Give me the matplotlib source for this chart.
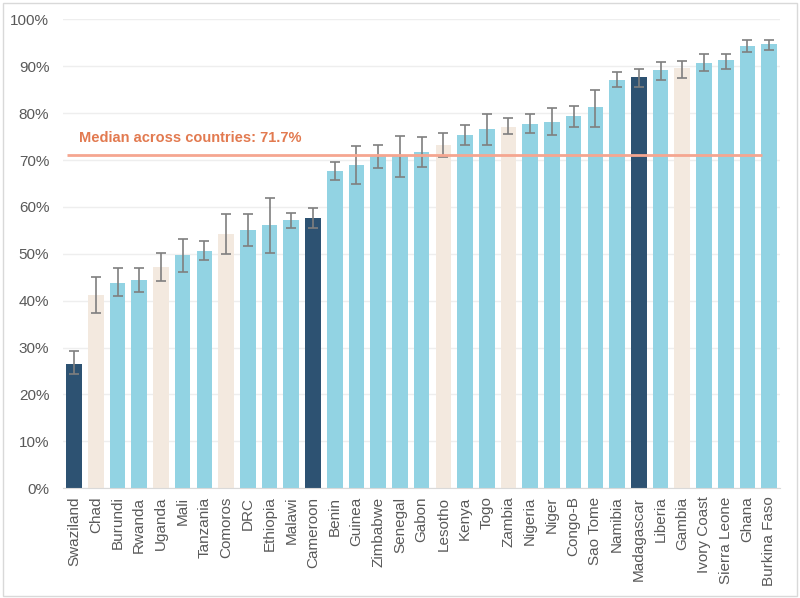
import numpy as np
from matplotlib import pyplot as plt
from matplotlib.patches import Rectangle
from matplotlib.ticker import PercentFormatter

plt.rcParams["font.family"] = ["Liberation Sans", "DejaVu Sans"]

countries = [
    "Swaziland", "Chad", "Burundi", "Rwanda", "Uganda", "Mali", "Tanzania",
    "Comoros", "DRC", "Ethiopia", "Malawi", "Cameroon", "Benin", "Guinea",
    "Zimbabwe", "Senegal", "Gabon", "Lesotho", "Kenya", "Togo", "Zambia",
    "Nigeria", "Niger", "Congo-B", "Sao Tome", "Namibia", "Madagascar",
    "Liberia", "Gambia", "Ivory Coast", "Sierra Leone", "Ghana", "Burkina Faso",
]
values = [
    26.6, 41.2, 43.8, 44.4, 47.2, 49.7, 50.6, 54.2, 55.1, 56.1, 57.1, 57.6,
    67.7, 68.9, 70.9, 70.9, 71.7, 73.2, 75.3, 76.6, 77.0, 77.7, 78.2, 79.4,
    81.2, 87.1, 87.7, 89.1, 89.6, 90.7, 91.3, 94.4, 94.7,
]
err_high = [
    29.3, 45.0, 46.9, 46.9, 50.2, 53.1, 52.7, 58.4, 58.4, 62.0, 58.6, 59.7,
    69.5, 72.9, 73.1, 75.1, 74.8, 75.8, 77.5, 79.9, 78.9, 79.9, 81.0, 81.5,
    84.9, 88.8, 89.3, 91.0, 91.2, 92.7, 92.7, 95.5, 95.5,
]
err_low = [
    24.3, 37.4, 40.9, 41.8, 44.3, 46.2, 48.7, 49.9, 51.7, 50.1, 55.5, 55.5,
    65.7, 64.9, 68.2, 66.3, 68.6, 70.7, 73.1, 73.1, 75.5, 75.7, 75.3, 77.0,
    77.0, 85.6, 85.6, 87.0, 87.5, 88.9, 89.4, 93.0, 93.5,
]
# group: 0 = light blue, 1 = dark, 2 = beige
groups = [
    1, 2, 0, 0, 2, 0, 0, 2, 0, 0, 0, 1, 0, 0, 0, 0, 0, 2, 0, 0, 2,
    0, 0, 0, 0, 0, 1, 0, 2, 0, 0, 0, 0,
]
median_line = 71.1
median_label = "Median across countries: 71.7%"

palette = {0: "#92D3E3", 1: "#2D5272", 2: "#F3E9DF"}
colors = [palette[g] for g in groups]

vals = np.array(values)
yerr = np.array([vals - np.array(err_low), np.array(err_high) - vals])
x = np.arange(len(countries))

fig = plt.figure(figsize=(8, 5.98), dpi=100)
ax = fig.add_axes([0.079, 0.1835, 0.896, 0.7842])

ax.bar(x, vals, width=0.72, color=colors, zorder=2)
ax.errorbar(x, vals, yerr=yerr, fmt="none", ecolor="#7F7F7F",
            elinewidth=1.2, capsize=3.5, capthick=1.2, zorder=3)

ax.hlines(median_line, -0.32, 31.65, color="#F5A690", linewidth=2, zorder=4)
ax.text(0.25, 74.6, median_label, color="#E27A50", fontsize=10.5,
        fontweight="bold", va="center", ha="left")

ax.set_xlim(-0.5, len(countries) - 0.5)
ax.set_ylim(0, 100)
ax.set_yticks(np.arange(0, 101, 10))
ax.yaxis.set_major_formatter(PercentFormatter(decimals=0))
ax.set_xticks(x)
ax.set_xticklabels(countries, rotation=90)
ax.tick_params(axis="both", length=0, labelsize=11, colors="#595959")
ax.tick_params(axis="y", pad=10)
ax.tick_params(axis="x", pad=6)

ax.grid(axis="y", color="#EEEEEE", linewidth=1, zorder=0)
ax.set_axisbelow(True)
for side in ["top", "right", "left"]:
    ax.spines[side].set_visible(False)
ax.spines["bottom"].set_color("#D9D9D9")

# thin frame around the whole picture
fig.patches.append(Rectangle((0.004, 0.004), 0.992, 0.991, transform=fig.transFigure,
                             fill=False, edgecolor="#D9D9D9", linewidth=1))

fig.savefig("out.png", dpi=100)
